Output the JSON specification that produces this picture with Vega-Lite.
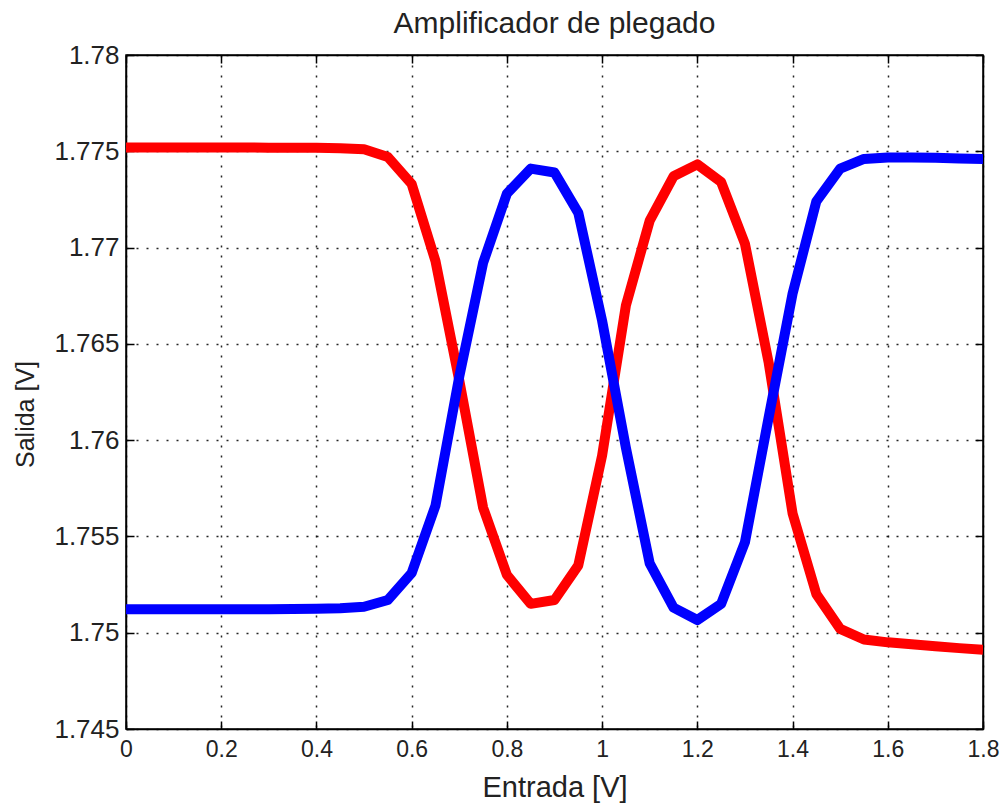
{
  "$schema": "https://vega.github.io/schema/vega-lite/v6.json",
  "width": 857,
  "height": 674,
  "autosize": "none",
  "padding": {"left": 126, "top": 55, "right": 18, "bottom": 77},
  "background": "white",
  "config": {
    "font": "Liberation Sans",
    "view": {"stroke": "black", "strokeWidth": 1.5},
    "axis": {"labelFont": "Liberation Sans", "titleFont": "Liberation Sans", "labelColor": "#222", "titleColor": "#222", "titleFontWeight": "normal"}
  },
  "title": {"text": "Amplificador de plegado", "fontSize": 30, "fontWeight": "normal", "font": "Liberation Sans", "color": "#222", "anchor": "middle", "offset": 3},
  "datasets": {
    "curvas": [
      {"Entrada": 0.0, "Salida": 1.7752, "serie": "rojo"},
      {"Entrada": 0.05, "Salida": 1.7752, "serie": "rojo"},
      {"Entrada": 0.1, "Salida": 1.7752, "serie": "rojo"},
      {"Entrada": 0.15, "Salida": 1.7752, "serie": "rojo"},
      {"Entrada": 0.2, "Salida": 1.7752, "serie": "rojo"},
      {"Entrada": 0.25, "Salida": 1.7752, "serie": "rojo"},
      {"Entrada": 0.3, "Salida": 1.77519, "serie": "rojo"},
      {"Entrada": 0.35, "Salida": 1.77519, "serie": "rojo"},
      {"Entrada": 0.4, "Salida": 1.77518, "serie": "rojo"},
      {"Entrada": 0.45, "Salida": 1.77516, "serie": "rojo"},
      {"Entrada": 0.5, "Salida": 1.7751, "serie": "rojo"},
      {"Entrada": 0.55, "Salida": 1.7747, "serie": "rojo"},
      {"Entrada": 0.6, "Salida": 1.7733, "serie": "rojo"},
      {"Entrada": 0.65, "Salida": 1.7693, "serie": "rojo"},
      {"Entrada": 0.7, "Salida": 1.7631, "serie": "rojo"},
      {"Entrada": 0.75, "Salida": 1.7565, "serie": "rojo"},
      {"Entrada": 0.8, "Salida": 1.753, "serie": "rojo"},
      {"Entrada": 0.85, "Salida": 1.7515, "serie": "rojo"},
      {"Entrada": 0.9, "Salida": 1.7517, "serie": "rojo"},
      {"Entrada": 0.95, "Salida": 1.7535, "serie": "rojo"},
      {"Entrada": 1.0, "Salida": 1.7592, "serie": "rojo"},
      {"Entrada": 1.05, "Salida": 1.767, "serie": "rojo"},
      {"Entrada": 1.1, "Salida": 1.7714, "serie": "rojo"},
      {"Entrada": 1.15, "Salida": 1.7737, "serie": "rojo"},
      {"Entrada": 1.2, "Salida": 1.77432, "serie": "rojo"},
      {"Entrada": 1.25, "Salida": 1.7734, "serie": "rojo"},
      {"Entrada": 1.3, "Salida": 1.7702, "serie": "rojo"},
      {"Entrada": 1.35, "Salida": 1.764, "serie": "rojo"},
      {"Entrada": 1.4, "Salida": 1.7562, "serie": "rojo"},
      {"Entrada": 1.45, "Salida": 1.752, "serie": "rojo"},
      {"Entrada": 1.5, "Salida": 1.7502, "serie": "rojo"},
      {"Entrada": 1.55, "Salida": 1.74965, "serie": "rojo"},
      {"Entrada": 1.6, "Salida": 1.7495, "serie": "rojo"},
      {"Entrada": 1.65, "Salida": 1.7494, "serie": "rojo"},
      {"Entrada": 1.7, "Salida": 1.7493, "serie": "rojo"},
      {"Entrada": 1.75, "Salida": 1.7492, "serie": "rojo"},
      {"Entrada": 1.8, "Salida": 1.74912, "serie": "rojo"},
      {"Entrada": 0.0, "Salida": 1.75122, "serie": "azul"},
      {"Entrada": 0.05, "Salida": 1.75122, "serie": "azul"},
      {"Entrada": 0.1, "Salida": 1.75122, "serie": "azul"},
      {"Entrada": 0.15, "Salida": 1.75122, "serie": "azul"},
      {"Entrada": 0.2, "Salida": 1.75122, "serie": "azul"},
      {"Entrada": 0.25, "Salida": 1.75122, "serie": "azul"},
      {"Entrada": 0.3, "Salida": 1.75122, "serie": "azul"},
      {"Entrada": 0.35, "Salida": 1.75123, "serie": "azul"},
      {"Entrada": 0.4, "Salida": 1.75124, "serie": "azul"},
      {"Entrada": 0.45, "Salida": 1.75127, "serie": "azul"},
      {"Entrada": 0.5, "Salida": 1.75135, "serie": "azul"},
      {"Entrada": 0.55, "Salida": 1.7517, "serie": "azul"},
      {"Entrada": 0.6, "Salida": 1.7531, "serie": "azul"},
      {"Entrada": 0.65, "Salida": 1.7566, "serie": "azul"},
      {"Entrada": 0.7, "Salida": 1.7633, "serie": "azul"},
      {"Entrada": 0.75, "Salida": 1.7692, "serie": "azul"},
      {"Entrada": 0.8, "Salida": 1.7728, "serie": "azul"},
      {"Entrada": 0.85, "Salida": 1.7741, "serie": "azul"},
      {"Entrada": 0.9, "Salida": 1.7739, "serie": "azul"},
      {"Entrada": 0.95, "Salida": 1.7718, "serie": "azul"},
      {"Entrada": 1.0, "Salida": 1.7662, "serie": "azul"},
      {"Entrada": 1.05, "Salida": 1.7596, "serie": "azul"},
      {"Entrada": 1.1, "Salida": 1.7536, "serie": "azul"},
      {"Entrada": 1.15, "Salida": 1.7513, "serie": "azul"},
      {"Entrada": 1.2, "Salida": 1.75066, "serie": "azul"},
      {"Entrada": 1.25, "Salida": 1.7515, "serie": "azul"},
      {"Entrada": 1.3, "Salida": 1.7547, "serie": "azul"},
      {"Entrada": 1.35, "Salida": 1.7612, "serie": "azul"},
      {"Entrada": 1.4, "Salida": 1.7676, "serie": "azul"},
      {"Entrada": 1.45, "Salida": 1.7724, "serie": "azul"},
      {"Entrada": 1.5, "Salida": 1.7741, "serie": "azul"},
      {"Entrada": 1.55, "Salida": 1.7746, "serie": "azul"},
      {"Entrada": 1.6, "Salida": 1.77468, "serie": "azul"},
      {"Entrada": 1.65, "Salida": 1.77468, "serie": "azul"},
      {"Entrada": 1.7, "Salida": 1.77466, "serie": "azul"},
      {"Entrada": 1.75, "Salida": 1.77463, "serie": "azul"},
      {"Entrada": 1.8, "Salida": 1.7746, "serie": "azul"}
    ]
  },
  "data": {"name": "curvas"},
  "layer": [
    {
      "transform": [{"filter": "datum.serie === 'rojo'"}],
      "mark": {"type": "line", "strokeWidth": 10, "strokeJoin": "round", "strokeCap": "butt", "clip": true},
      "encoding": {
        "x": {"field": "Entrada", "type": "quantitative",
          "scale": {"domain": [0, 1.8], "nice": false, "zero": false},
          "axis": {"title": "Entrada [V]", "titleFontSize": 29, "titlePadding": 12, "labelFontSize": 23, "labelPadding": 17, "format": "~g",
            "values": [0, 0.2, 0.4, 0.6, 0.8, 1, 1.2, 1.4, 1.6, 1.8],
            "tickSize": -8, "tickColor": "black", "tickWidth": 1.5, "domainColor": "black", "domainWidth": 1.5,
            "grid": true, "gridColor": "black", "gridDash": [2, 8], "gridWidth": 1.5, "gridOpacity": 0.85, "labelFlush": false}},
        "y": {"field": "Salida", "type": "quantitative",
          "scale": {"domain": [1.745, 1.78], "nice": false, "zero": false},
          "axis": {"title": "Salida [V]", "titleFontSize": 25, "titleX": -101, "titleY": 359, "titleBaseline": "middle", "titleAlign": "center", "labelFontSize": 26, "labelPadding": 15, "format": "~g",
            "values": [1.745, 1.75, 1.755, 1.76, 1.765, 1.77, 1.775, 1.78],
            "tickSize": -8, "tickColor": "black", "tickWidth": 1.5, "domainColor": "black", "domainWidth": 1.5,
            "grid": true, "gridColor": "black", "gridDash": [2, 8], "gridWidth": 1.5, "gridOpacity": 0.85, "labelFlush": false}},
        "color": {"field": "serie", "type": "nominal", "scale": {"domain": ["rojo", "azul"], "range": ["#ff0000", "#0000ff"]}, "legend": null}
      }
    },
    {
      "transform": [{"filter": "datum.serie === 'azul'"}],
      "mark": {"type": "line", "strokeWidth": 10, "strokeJoin": "round", "strokeCap": "butt", "clip": true},
      "encoding": {
        "x": {"field": "Entrada", "type": "quantitative",
          "axis": {"orient": "top", "title": null, "labels": false, "grid": false,
            "values": [0, 0.2, 0.4, 0.6, 0.8, 1, 1.2, 1.4, 1.6, 1.8],
            "tickSize": -8, "tickColor": "black", "tickWidth": 1.5, "domainColor": "black", "domainWidth": 1.5}},
        "y": {"field": "Salida", "type": "quantitative",
          "axis": {"orient": "right", "title": null, "labels": false, "grid": false,
            "values": [1.745, 1.75, 1.755, 1.76, 1.765, 1.77, 1.775, 1.78],
            "tickSize": -8, "tickColor": "black", "tickWidth": 1.5, "domainColor": "black", "domainWidth": 1.5}},
        "color": {"field": "serie", "type": "nominal", "legend": null}
      }
    }
  ],
  "resolve": {"axis": {"x": "independent", "y": "independent"}}
}
